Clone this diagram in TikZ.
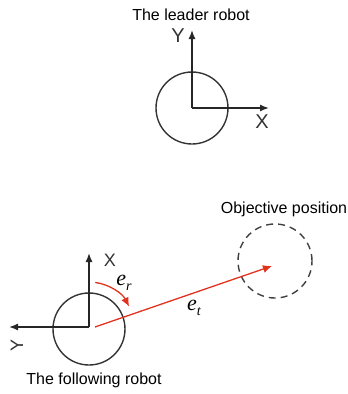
\documentclass[tikz,border=0pt]{standalone}
\usepackage{fontspec}
\setmainfont{Liberation Sans}
\newfontfamily\mathserif{Liberation Serif}
\usetikzlibrary{arrows.meta}
\newcommand{\errsym}[1]{{\mathserif\itshape e\raisebox{-5pt}{\fontsize{14}{16}\selectfont #1}}}
\begin{document}
\begin{tikzpicture}[x=1pt,y=-1pt,
  robot/.style={circle,draw=black!80,line width=1.4pt,minimum size=72pt,inner sep=0pt},
  goal/.style={circle,draw=black!75,line width=1.4pt,dash pattern=on 7pt off 5pt,minimum size=74pt,inner sep=0pt},
  axis/.style={draw=black!85,line width=1.4pt,-{Latex[length=9pt,width=7pt]}},
  errarrow/.style={draw={rgb,255:red,225;green,50;blue,30},line width=1.3pt,-{Latex[length=9pt,width=8pt]}},
  caption/.style={font=\fontsize{16}{19}\selectfont,inner sep=0pt},
  axlabel/.style={font=\fontsize{20}{22}\selectfont,text=black!80,inner sep=0pt},
  mlabel/.style={font=\fontsize{22}{24}\selectfont,inner sep=0pt}]
\useasboundingbox (0,0) rectangle (348,394);
% leader robot
\node[robot] (leader) at (192,108) {};
\coordinate (lY) at (192,30);
\coordinate (lX) at (269,108);
\draw[axis] (leader.center) -- (lY);
\draw[axis] (leader.center) -- (lX);
\node[axlabel] (lYlab) at (178,36) {Y};
\node[axlabel] (lXlab) at (262,122) {X};
\node[caption] (ltitle) at (191,15) {The leader robot};
% following robot
\node[robot] (follower) at (89,329) {};
\coordinate (fc) at (89,327);
\coordinate (fX) at (89,253);
\coordinate (fY) at (9,327);
\draw[axis] (fc) -- (fX);
\draw[axis] (fc) -- (fY);
\node[axlabel,font=\fontsize{18}{20}\selectfont] (fXlab) at (110,260) {X};
\node[axlabel,font=\fontsize{18}{20}\selectfont,rotate=90] (fYlab) at (17,345) {Y};
\node[caption] (ftitle) at (94,380) {The following robot};
% objective
\node[goal] (obj) at (275,261) {};
\node[caption] (otitle) at (284,209) {Objective position};
% errors
\coordinate (etstart) at (95,327);
\coordinate (ettip) at (272,266);
\draw[errarrow] (etstart) -- (ettip);
\coordinate (erstart) at ([shift={(-82:45)}]fc);
\draw[errarrow] (erstart) arc[start angle=-82,end angle=-27,radius=45];
\node[mlabel] (erlab) at (124,283) {\errsym{r}};
\node[mlabel] (etlab) at (194,308) {\errsym{t}};
\end{tikzpicture}
\end{document}
